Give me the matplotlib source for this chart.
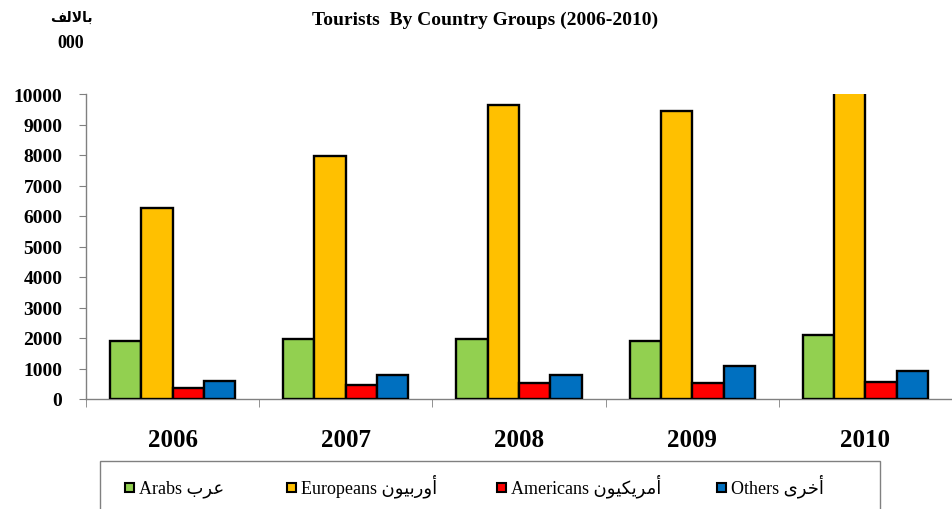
import numpy as np
import matplotlib.pyplot as plt
from matplotlib.patches import Rectangle

years = ['2006', '2007', '2008', '2009', '2010']
arabs = [1890, 1970, 1970, 1900, 2100]
europeans = [6270, 7970, 9640, 9440, 10500]
americans = [360, 460, 520, 520, 570]
others = [590, 790, 790, 1080, 920]

# arabic words written as presentation forms, in visual (left-to-right) order
ar_unit = '\uFED2\uFEDF\uFEFB\uFE8E\uFE91'
ar_arabs = '\uFE8F\uFEAE\uFECB'
ar_europ = '\uFEE5\uFEEE\uFEF4\uFE91\uFEAD\uFEED\uFE83'
ar_amer = '\uFEE5\uFEEE\uFEF4\uFEDC\uFEF3\uFEAE\uFEE3\uFE83'
ar_other = '\uFEEF\uFEAE\uFEA7\uFE83'

labels = ['Arabs ' + ar_arabs, 'Europeans ' + ar_europ,
          'Americans ' + ar_amer, 'Others ' + ar_other]
colors = ['#92D050', '#FFC000', '#FF0000', '#0070C0']
series = [arabs, europeans, americans, others]

fam = ['Liberation Serif', 'DejaVu Sans']
plt.rcParams['font.family'] = fam

fig = plt.figure(figsize=(9.52, 5.10), dpi=100)
ax = fig.add_axes([86/952, 1-400/510, 1-86/952, 305/510])

x = np.arange(len(years))
w = 0.181
for k, (vals, col, lab) in enumerate(zip(series, colors, labels)):
    ax.bar(x + (k-1.5)*w, vals, w, color=col, edgecolor='black', linewidth=1.7,
           label=lab, zorder=3)

ax.set_xlim(-0.5, 4.48)
ax.set_ylim(0, 10000)
ax.set_yticks(np.arange(0, 10001, 1000))
ax.set_yticklabels([str(v) for v in range(0, 10001, 1000)], fontsize=14, fontweight='bold')
ax.set_xticks(x)
ax.set_xticklabels(years, fontsize=18, fontweight='bold')
ax.set_xticks(np.arange(-0.5, 4.6, 1), minor=True)
ax.tick_params(axis='x', which='major', length=0, pad=21)
ax.tick_params(axis='x', which='minor', length=6, color='#808080', direction='out')
ax.tick_params(axis='y', length=5, color='#808080', direction='out', pad=12)
for s in ['top', 'right']:
    ax.spines[s].set_visible(False)
for s in ['left', 'bottom']:
    ax.spines[s].set_color('#808080')
    ax.spines[s].set_linewidth(1.0)

fig.text(485/952, 1-20/510, 'Tourists  By Country Groups (2006-2010)', ha='center', va='center',
         fontsize=14, fontweight='bold')
fig.text(71/952, 1-18/510, ar_unit, ha='center', va='center', fontsize=10, fontweight='bold',
         family=['DejaVu Sans'])
fig.text(71/952, 1-43/510, '000', ha='center', va='center', fontsize=13, fontweight='bold')

# legend box with hand placed entries
fig.patches.append(Rectangle((100/952, -0.05), 780/952, 0.05 + 48/510, transform=fig.transFigure,
                             facecolor='white', edgecolor='#808080', linewidth=1.0))
leg_x = [125, 287, 497, 717]
for col, lab, lx in zip(colors, labels, leg_x):
    fig.patches.append(Rectangle((lx/952, 1-493/510), 9/952, 9/510, transform=fig.transFigure,
                                 facecolor=col, edgecolor='black', linewidth=1.5))
    fig.text((lx+14)/952, 1-493/510, lab, ha='left', va='baseline', fontsize=13)

fig.savefig('out.png', dpi=100)
